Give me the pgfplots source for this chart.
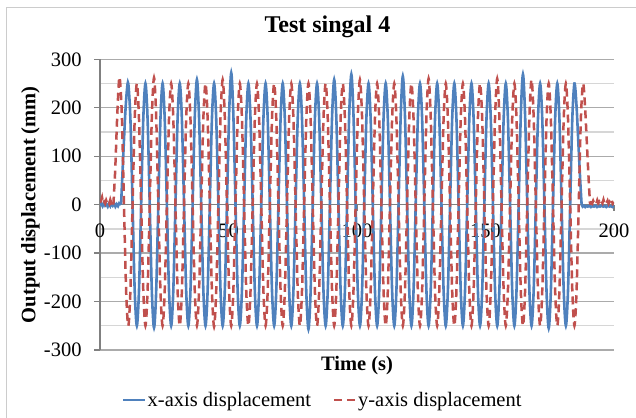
\documentclass[border=0pt]{standalone}
\usepackage{fontspec}
\setmainfont{Liberation Serif}
\usepackage{pgfplots}
\usepackage{pgfplotstable}
\pgfplotsset{compat=1.18}
\definecolor{xblue}{HTML}{4F81BD}
\definecolor{yred}{HTML}{C0504D}
% x-axis displacement (oscillating part)
\pgfplotstableread[row sep=\\]{
t v\\
8.2 0\\ 9.0 95\\ 9.8 185\\ 10.45 235\\
11.00 250\\ 11.83 177\\ 12.67 0\\ 13.50 -177\\ 14.34 -250\\ 15.17 -177\\ 16.01 0\\ 16.84 177\\
17.68 250\\ 18.51 177\\ 19.35 0\\ 20.18 -180\\ 21.02 -254\\ 21.85 -180\\ 22.69 0\\ 23.52 177\\
24.35 250\\ 25.18 177\\ 26.02 0\\ 26.85 -177\\ 27.69 -250\\ 28.52 -177\\ 29.36 0\\ 30.19 177\\
31.03 250\\ 31.86 177\\ 32.70 0\\ 33.53 -177\\ 34.37 -250\\ 35.20 -177\\ 36.04 0\\ 36.87 180\\
37.71 258\\ 38.54 180\\ 39.38 0\\ 40.21 -177\\ 41.05 -250\\ 41.88 -177\\ 42.72 0\\ 43.55 177\\
44.39 250\\ 45.22 177\\ 46.06 0\\ 46.89 -177\\ 47.73 -250\\ 48.56 -177\\ 49.40 0\\ 50.23 185\\
51.06 272\\ 51.89 185\\ 52.73 0\\ 53.56 -177\\ 54.40 -250\\ 55.23 -177\\ 56.07 0\\ 56.90 177\\
57.74 250\\ 58.57 177\\ 59.41 0\\ 60.24 -177\\ 61.08 -250\\ 61.91 -177\\ 62.75 0\\ 63.58 177\\
64.42 250\\ 65.25 177\\ 66.09 0\\ 66.92 -177\\ 67.76 -250\\ 68.59 -177\\ 69.43 0\\ 70.26 177\\
71.09 250\\ 71.92 177\\ 72.76 0\\ 73.59 -177\\ 74.43 -250\\ 75.26 -177\\ 76.10 0\\ 76.93 177\\
77.77 250\\ 78.60 177\\ 79.44 0\\ 80.27 -181\\ 81.11 -257\\ 81.94 -181\\ 82.78 0\\ 83.61 177\\
84.45 250\\ 85.28 177\\ 86.12 0\\ 86.95 -177\\ 87.79 -250\\ 88.62 -177\\ 89.46 0\\ 90.29 180\\
91.12 258\\ 91.95 180\\ 92.79 0\\ 93.62 -177\\ 94.46 -250\\ 95.29 -177\\ 96.13 0\\ 96.96 185\\
97.80 269\\ 98.63 185\\ 99.47 0\\ 100.30 -177\\ 101.14 -250\\ 101.97 -177\\ 102.81 0\\ 103.64 177\\
104.48 250\\ 105.31 177\\ 106.15 0\\ 106.98 -177\\ 107.82 -250\\ 108.65 -177\\ 109.49 0\\ 110.32 177\\
111.16 250\\ 111.99 177\\ 112.83 0\\ 113.66 -177\\ 114.50 -250\\ 115.33 -177\\ 116.17 0\\ 117.00 183\\
117.83 265\\ 118.66 183\\ 119.50 0\\ 120.33 -177\\ 121.17 -250\\ 122.00 -177\\ 122.84 0\\ 123.67 177\\
124.51 250\\ 125.34 177\\ 126.18 0\\ 127.01 -177\\ 127.85 -250\\ 128.68 -177\\ 129.52 0\\ 130.35 177\\
131.19 250\\ 132.02 177\\ 132.86 0\\ 133.69 -177\\ 134.53 -250\\ 135.36 -177\\ 136.20 0\\ 137.03 177\\
137.86 250\\ 138.69 177\\ 139.53 0\\ 140.36 -177\\ 141.20 -250\\ 142.03 -177\\ 142.87 0\\ 143.70 177\\
144.54 250\\ 145.37 177\\ 146.21 0\\ 147.04 -177\\ 147.88 -250\\ 148.71 -177\\ 149.55 0\\ 150.38 177\\
151.22 250\\ 152.05 177\\ 152.89 0\\ 153.72 -177\\ 154.56 -250\\ 155.39 -177\\ 156.23 0\\ 157.06 177\\
157.89 250\\ 158.72 177\\ 159.56 0\\ 160.39 -177\\ 161.23 -250\\ 162.06 -177\\ 162.90 0\\ 163.73 185\\
164.57 269\\ 165.40 185\\ 166.24 0\\ 167.07 -177\\ 167.91 -250\\ 168.74 -177\\ 169.58 0\\ 170.41 177\\
171.25 250\\ 172.08 177\\ 172.92 0\\ 173.75 -180\\ 174.59 -255\\ 175.42 -180\\ 176.26 0\\ 177.09 177\\
177.93 250\\ 178.76 177\\ 179.60 0\\ 180.43 -177\\ 181.27 -250\\ 182.10 -177\\ 182.94 0\\ 183.77 177\\
184.60 250\\ 185.40 205\\ 186.20 120\\ 186.90 45\\ 187.40 0\\
}\bluedata
% y-axis displacement (oscillating part)
\pgfplotstableread[row sep=\\]{
t v\\
5.2 0\\ 5.9 70\\ 6.6 170\\ 7.15 235\\ 7.66 263\\ 8.50 185\\ 9.33 0\\ 10.16 -177\\
11.00 -250\\ 11.83 -177\\ 12.67 0\\ 13.50 177\\ 14.34 250\\ 15.17 177\\ 16.01 0\\ 16.84 -177\\
17.68 -250\\ 18.51 -177\\ 19.35 0\\ 20.18 183\\ 21.02 262\\ 21.85 183\\ 22.69 0\\ 23.52 -177\\
24.35 -250\\ 25.18 -177\\ 26.02 0\\ 26.85 177\\ 27.69 250\\ 28.52 177\\ 29.36 0\\ 30.19 -177\\
31.03 -250\\ 31.86 -177\\ 32.70 0\\ 33.53 177\\ 34.37 250\\ 35.20 177\\ 36.04 0\\ 36.87 -177\\
37.71 -250\\ 38.54 -177\\ 39.38 0\\ 40.21 177\\ 41.05 250\\ 41.88 177\\ 42.72 0\\ 43.55 -177\\
44.39 -252\\ 45.22 -177\\ 46.06 0\\ 46.89 180\\ 47.73 258\\ 48.56 180\\ 49.40 0\\ 50.23 -177\\
51.06 -250\\ 51.89 -177\\ 52.73 0\\ 53.56 177\\ 54.40 250\\ 55.23 177\\ 56.07 0\\ 56.90 -177\\
57.74 -250\\ 58.57 -177\\ 59.41 0\\ 60.24 177\\ 61.08 250\\ 61.91 177\\ 62.75 0\\ 63.58 -177\\
64.42 -250\\ 65.25 -177\\ 66.09 0\\ 66.92 177\\ 67.76 250\\ 68.59 177\\ 69.43 0\\ 70.26 -177\\
71.09 -250\\ 71.92 -177\\ 72.76 0\\ 73.59 177\\ 74.43 250\\ 75.26 177\\ 76.10 0\\ 76.93 -177\\
77.77 -250\\ 78.60 -177\\ 79.44 0\\ 80.27 177\\ 81.11 250\\ 81.94 177\\ 82.78 0\\ 83.61 -177\\
84.45 -250\\ 85.28 -177\\ 86.12 0\\ 86.95 177\\ 87.79 250\\ 88.62 177\\ 89.46 0\\ 90.29 -177\\
91.12 -250\\ 91.95 -177\\ 92.79 0\\ 93.62 177\\ 94.46 250\\ 95.29 177\\ 96.13 0\\ 96.96 -177\\
97.80 -250\\ 98.63 -177\\ 99.47 0\\ 100.30 180\\ 101.14 258\\ 101.97 180\\ 102.81 0\\ 103.64 -177\\
104.48 -250\\ 105.31 -177\\ 106.15 0\\ 106.98 177\\ 107.82 250\\ 108.65 177\\ 109.49 0\\ 110.32 -177\\
111.16 -250\\ 111.99 -177\\ 112.83 0\\ 113.66 177\\ 114.50 250\\ 115.33 177\\ 116.17 0\\ 117.00 -177\\
117.83 -250\\ 118.66 -177\\ 119.50 0\\ 120.33 177\\ 121.17 250\\ 122.00 177\\ 122.84 0\\ 123.67 -177\\
124.51 -250\\ 125.34 -177\\ 126.18 0\\ 127.01 181\\ 127.85 260\\ 128.68 181\\ 129.52 0\\ 130.35 -177\\
131.19 -250\\ 132.02 -177\\ 132.86 0\\ 133.69 177\\ 134.53 250\\ 135.36 177\\ 136.20 0\\ 137.03 -177\\
137.86 -250\\ 138.69 -177\\ 139.53 0\\ 140.36 177\\ 141.20 250\\ 142.03 177\\ 142.87 0\\ 143.70 -177\\
144.54 -250\\ 145.37 -177\\ 146.21 0\\ 147.04 177\\ 147.88 250\\ 148.71 177\\ 149.55 0\\ 150.38 -177\\
151.22 -250\\ 152.05 -177\\ 152.89 0\\ 153.72 181\\ 154.56 260\\ 155.39 181\\ 156.23 0\\ 157.06 -177\\
157.89 -250\\ 158.72 -177\\ 159.56 0\\ 160.39 177\\ 161.23 250\\ 162.06 177\\ 162.90 0\\ 163.73 -177\\
164.57 -250\\ 165.40 -177\\ 166.24 0\\ 167.07 180\\ 167.91 258\\ 168.74 180\\ 169.58 0\\ 170.41 -177\\
171.25 -250\\ 172.08 -177\\ 172.92 0\\ 173.75 177\\ 174.59 250\\ 175.42 177\\ 176.26 0\\ 177.09 -177\\
177.93 -250\\ 178.76 -177\\ 179.60 0\\ 180.43 177\\ 181.27 250\\ 182.10 177\\ 182.94 0\\ 183.77 -177\\
184.60 -250\\ 185.43 -177\\ 186.27 0\\ 187.10 177\\ 187.94 250\\ 188.70 205\\ 189.50 120\\ 190.20 45\\ 190.70 0\\
}\reddata
\begin{document}
\begin{tikzpicture}[x=1bp,y=1bp]
\useasboundingbox (0,0) rectangle (636,417);
\draw[black!20, line width=1.5bp] (6.5,-3) -- (6.5,409.7) -- (640,409.7);
\begin{axis}[
  at={(100bp,67bp)}, anchor=south west,
  scale only axis, width=514bp, height=290.7bp,
  xmin=0, xmax=200, ymin=-300, ymax=300,
  axis x line*=middle, axis y line*=left,
  hide obscured x ticks=false,
  axis line style={black!50, line width=1.3bp},
  xtick={0,50,...,200}, ytick={-300,-200,...,300},
  minor ytick={-250,-150,...,250},
  ymajorgrids, yminorgrids,
  major grid style={black!33, line width=1.3bp},
  minor grid style={black!16, line width=1.3bp},
  tick align=outside, major tick length=6bp, minor tick length=0pt,
  tick style={black!50, line width=1.3bp},
  /pgf/number format/assume math mode=true,
  ticklabel style={font=\fontsize{20.5bp}{24bp}\selectfont},
  yticklabel style={anchor=east, inner sep=0pt, xshift=-12.3bp},
  xticklabel style={anchor=north, inner sep=0pt, yshift=-12.7bp},
  title={Test singal 4},
  title style={at={(axis description cs:0.4426,1.0733)}, anchor=base, inner sep=0pt, font=\bfseries\fontsize{24bp}{28bp}\selectfont},
  xlabel={Time (s)},
  xlabel style={at={(axis description cs:0.5,-0.0712)}, anchor=base, inner sep=0pt, font=\bfseries\fontsize{20.5bp}{24bp}\selectfont},
  ylabel={Output displacement (mm)},
  ylabel style={at={(axis description cs:-0.1255,0.5)}, anchor=base, inner sep=0pt, font=\bfseries\fontsize{20.5bp}{24bp}\selectfont},
  legend columns=2,
  legend style={draw=none, fill=none, at={(0.433,-0.172)}, anchor=center,
    font=\fontsize{20.5bp}{24bp}\selectfont,
    nodes={inner sep=1.5bp},
    /tikz/every even column/.append style={column sep=20bp}},
  legend cell align=left,
  legend image code/.code={\draw[#1] (0bp,0bp) -- (21.5bp,0bp);},
]
% x-axis displacement (blue)
\addplot[xblue, line width=2.6bp, forget plot] coordinates {
(0,-2) (0.5,2) (1,-3) (1.5,3) (2,-2) (2.5,1) (3,-4) (3.5,2) (4,-3) (4.5,3)
(5,-2) (5.5,2) (6,-4) (6.5,1) (7,-3) (7.5,3) (8.2,0)};
\addplot[xblue, line width=2.6bp, smooth] table[x=t, y=v] {\bluedata};
\addlegendentry{x-axis displacement}
\addplot[xblue, line width=2.6bp, forget plot] coordinates {
(187.4,0) (187.8,-4) (188.3,-2) (188.8,-5) (189.3,-3) (189.8,-4) (190.4,-2)
(191,-5) (191.6,-3) (192.2,-4) (192.8,-2) (193.4,-5) (194,-3) (194.6,-4)
(195.2,-2) (195.8,-4) (196.4,-3) (197,-5) (197.6,-2) (198.2,-4) (198.8,-3)
(199.4,-5) (200,-3)};
% y-axis displacement (red)
\addplot[yred, line width=2.5bp, dash pattern=on 8bp off 5bp, forget plot] coordinates {
(0,4) (0.4,8) (0.8,15) (1.2,3) (1.6,6) (2,2) (2.4,9) (2.8,3) (3.2,6) (3.6,2)
(4,10) (4.4,3) (4.8,5) (5.2,0)};
\addplot[yred, line width=2.5bp, dash pattern=on 8bp off 5bp, smooth] table[x=t, y=v] {\reddata};
\addlegendentry{y-axis displacement}
\addplot[yred, line width=2.5bp, dash pattern=on 8bp off 5bp, forget plot] coordinates {
(190.7,0) (191.1,4) (191.5,2) (191.9,8) (192.3,3) (192.7,5) (193.1,2) (193.5,9)
(193.9,3) (194.3,6) (194.7,2) (195.1,7) (195.5,3) (195.9,10) (196.3,2) (196.7,5)
(197.1,3) (197.5,8) (197.9,2) (198.3,6) (198.7,3) (199.1,9) (199.5,2) (200,5)};
\end{axis}
\end{tikzpicture}
\end{document}
